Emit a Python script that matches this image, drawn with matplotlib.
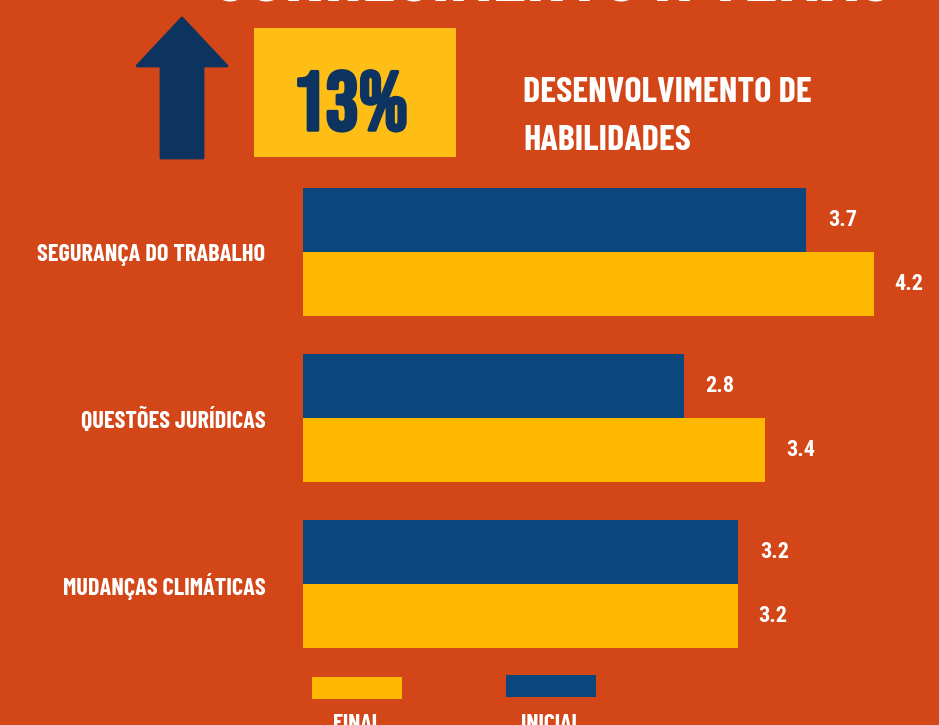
import matplotlib
matplotlib.use("Agg")
import matplotlib.pyplot as plt
import matplotlib.patheffects as pe
from matplotlib.patches import Polygon, Rectangle
import numpy as np

categories = ["SEGURANÇA DO TRABALHO", "QUESTÕES JURÍDICAS", "MUDANÇAS CLIMÁTICAS"]
inicial = [3.7, 2.8, 3.2]
final = [4.2, 3.4, 3.2]
highlight = "13%"
title = "CONHECIMENTO X TEMAS"

BG = "#D34618"
BLUE = "#0B467D"
YELLOW = "#FFB800"
NAVY = "#0D3460"
HEAD = ["Barlow Condensed", "DejaVu Sans"]
BIG = ["Bebas Neue", "DejaVu Sans"]
NUM = ["Roboto Condensed", "DejaVu Sans"]

W, H = 939, 725
fig = plt.figure(figsize=(W / 100, H / 100), dpi=100, facecolor=BG)


def fx(px):
    return px / W


def fy(py):
    return 1 - py / H


# title, mostly cut by the top edge
fig.text(fx(552), fy(2), title, color="white", fontsize=56, fontweight="bold",
         family=HEAD, ha="center", va="baseline")

# arrow
arrow = Polygon([(fx(161), fy(158)), (fx(161), fy(66)), (fx(137), fy(66)),
                 (fx(182), fy(18)), (fx(227), fy(66)), (fx(203), fy(66)),
                 (fx(203), fy(158))], closed=True, transform=fig.transFigure,
                facecolor=NAVY, edgecolor=NAVY, linewidth=2, joinstyle="round")
fig.patches.append(arrow)

# highlight box
fig.patches.append(Rectangle((fx(254), fy(157)), fx(202), 129 / H,
                             transform=fig.transFigure, facecolor="#FFBE16",
                             edgecolor="none"))
fig.text(fx(350), fy(130), highlight, color=NAVY, fontsize=60, family=BIG,
         ha="center", va="baseline",
         path_effects=[pe.withStroke(linewidth=2.5, foreground=NAVY)])
fig.text(fx(523), fy(102), "DESENVOLVIMENTO DE", color="white", fontsize=26,
         fontweight="bold", family=HEAD, ha="left", va="baseline")
fig.text(fx(523), fy(150), "HABILIDADES", color="white", fontsize=26,
         fontweight="bold", family=HEAD, ha="left", va="baseline")

# bar chart
top_px, bot_px = 170, 666
ax = fig.add_axes([fx(303), fy(bot_px), fx(W - 303), (bot_px - top_px) / H])
ax.set_facecolor(BG)
y = np.arange(len(categories))
h = 0.386
ax.barh(y - h / 2, inicial, height=h, color=BLUE, align="center")
ax.barh(y + h / 2, final, height=h, color=YELLOW, align="center")
ax.set_xlim(0, (W - 303) / 136)
ax.set_ylim(2 + (bot_px - 584) / 166, -(252 - top_px) / 166)
for i in range(len(categories)):
    ax.text(inicial[i] + 0.16, y[i] - h / 2, f"{inicial[i]:.1f}", color="white",
            fontsize=16, fontweight="bold", family=NUM, va="center", ha="left")
    ax.text(final[i] + 0.15, y[i] + h / 2, f"{final[i]:.1f}", color="white",
            fontsize=16, fontweight="bold", family=NUM, va="center", ha="left")
ax.set_yticks(y)
ax.set_yticklabels(categories, color="white", fontsize=17.5, fontweight="bold",
                   family=HEAD)
ax.tick_params(axis="y", length=0, pad=27)
ax.set_xticks([])
for s in ax.spines.values():
    s.set_visible(False)

# legend at bottom
fig.patches.append(Rectangle((fx(312), fy(699)), fx(90), 22 / H,
                             transform=fig.transFigure, facecolor=YELLOW))
fig.patches.append(Rectangle((fx(506), fy(697)), fx(90), 22 / H,
                             transform=fig.transFigure, facecolor=BLUE))
fig.text(fx(357), fy(730), "FINAL", color="white", fontsize=17, fontweight="bold",
         family=HEAD, ha="center", va="baseline")
fig.text(fx(551), fy(730), "INICIAL", color="white", fontsize=17,
         fontweight="bold", family=HEAD, ha="center", va="baseline")

fig.savefig("out.png", dpi=100, facecolor=BG)
